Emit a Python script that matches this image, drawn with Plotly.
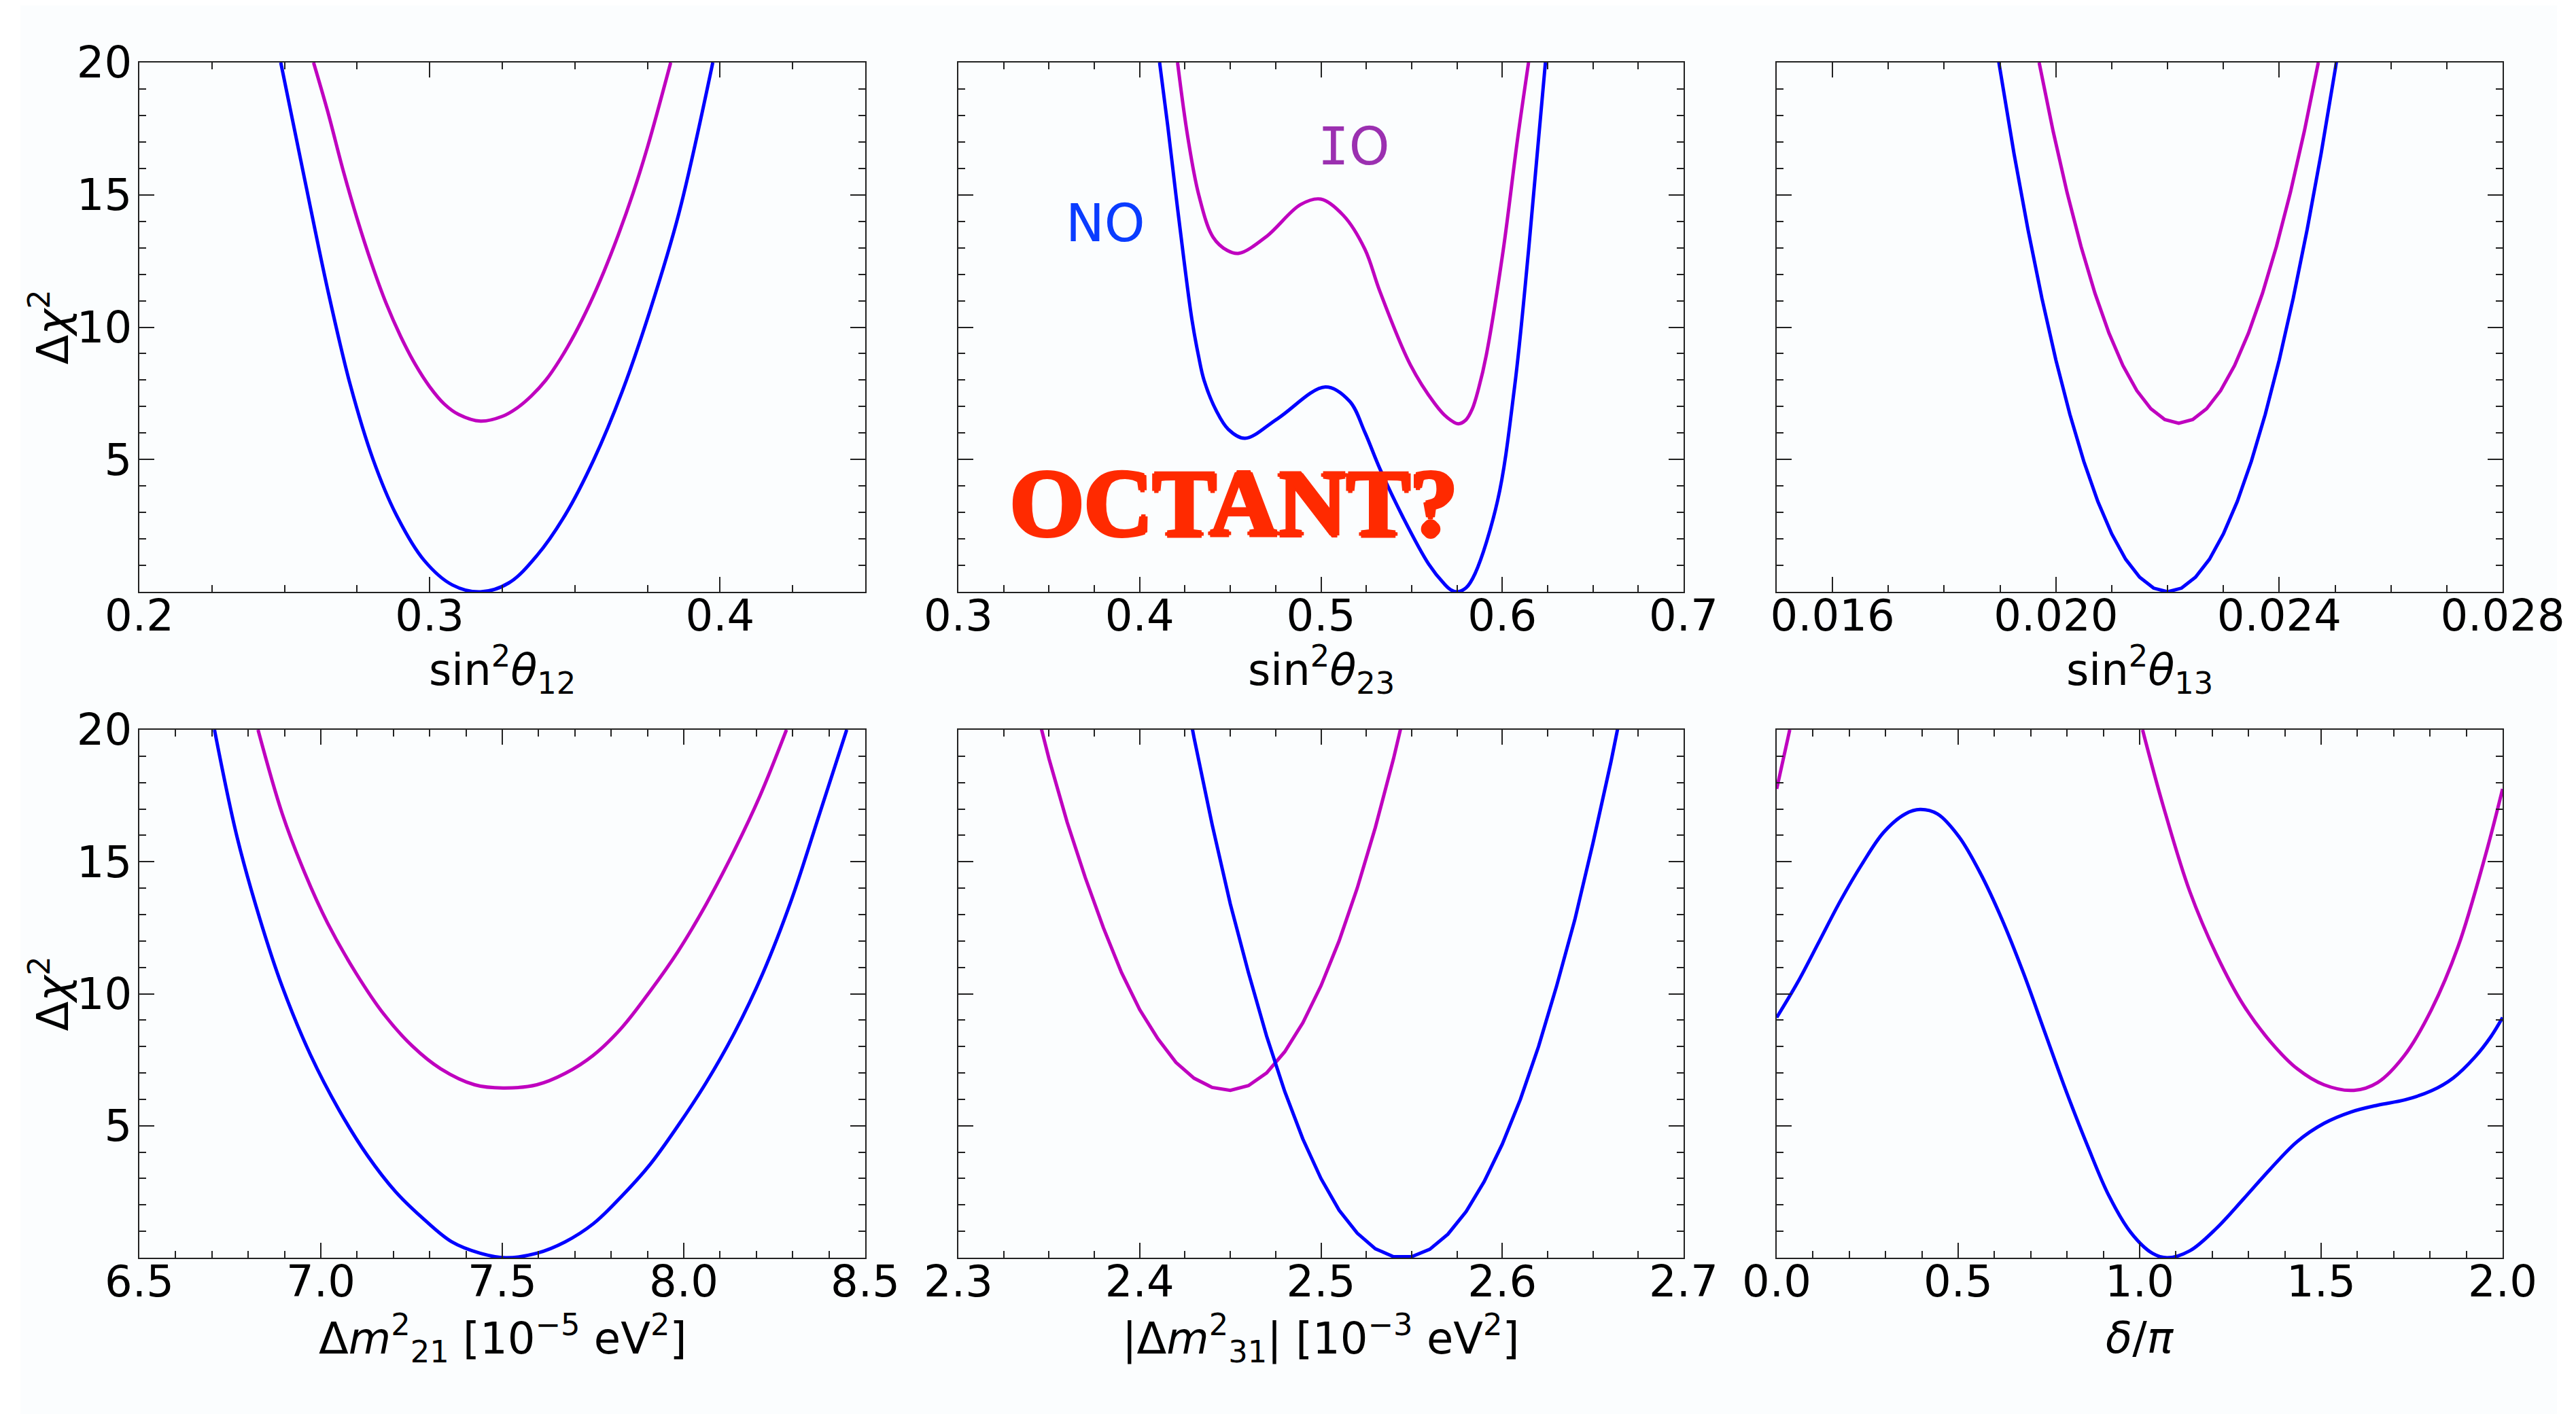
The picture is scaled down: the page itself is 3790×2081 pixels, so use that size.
import plotly.graph_objects as go

# ---------------- data ----------------
# sin^2 theta12
th12_x_no = [0.2487, 0.2571, 0.2649, 0.2727, 0.2805, 0.2883, 0.2980, 0.3078, 0.3175,
             0.3273, 0.3370, 0.3468, 0.3565, 0.3663, 0.3760, 0.3858, 0.3975]
th12_no = [20, 15.5, 11.4, 7.8, 5.0, 2.95, 1.2, 0.26, 0.0,
           0.34, 1.38, 2.93, 4.99, 7.57, 10.67, 14.29, 20]
th12_x_io = [0.2600, 0.2650, 0.2700, 0.2750, 0.2800, 0.2850, 0.2900, 0.2950, 0.3000, 0.3050,
             0.3100, 0.3175, 0.3250, 0.3300, 0.3350, 0.3400, 0.3450, 0.3500, 0.3550, 0.3600,
             0.3650, 0.3700, 0.3750, 0.3830]
th12_io = [20.0, 18.1, 16.0, 14.1, 12.4, 10.9, 9.65, 8.6, 7.75, 7.1,
           6.7, 6.45, 6.63, 6.94, 7.4, 8.0, 8.8, 9.75, 10.85, 12.1,
           13.5, 15.05, 16.8, 20.0]

# sin^2 theta23
th23_x_no = [0.4110, 0.4155, 0.4200, 0.4245, 0.4288, 0.4325, 0.4355, 0.4422, 0.4489, 0.4581,
             0.4760, 0.5024, 0.5158, 0.5242, 0.5325, 0.5450, 0.5594, 0.5680, 0.5715, 0.5750,
             0.5800, 0.5850, 0.5974, 0.6068, 0.6145, 0.6238]
th23_no = [20, 17.6, 15.0, 12.5, 10.3, 8.9, 8.0, 6.85, 6.14, 5.8,
           6.54, 7.74, 7.2, 6.03, 4.65, 2.85, 1.05, 0.3, 0.08, 0.0,
           0.15, 0.69, 3.44, 7.75, 12.9, 20]
th23_x_io = [0.4209, 0.4265, 0.4327, 0.4405, 0.4483, 0.4548, 0.4700, 0.4887, 0.4999, 0.5124,
             0.5242, 0.5325, 0.5493, 0.5629, 0.5694, 0.5757, 0.5800, 0.5834, 0.5870, 0.5912,
             0.6005, 0.6083, 0.6145]
th23_io = [20, 17.2, 14.97, 13.4, 12.9, 12.79, 13.43, 14.63, 14.84, 14.22,
           12.95, 11.35, 8.58, 7.1, 6.6, 6.35, 6.5, 6.9, 7.7, 8.95,
           12.9, 17.04, 20]

# sin^2 theta13
th13_x_no = [0.01895, 0.01900, 0.01925, 0.01950, 0.01975, 0.02000, 0.02025, 0.02050, 0.02075,
             0.02100, 0.02125, 0.02150, 0.02175, 0.02200, 0.02225, 0.02250, 0.02275, 0.02300,
             0.02325, 0.02350, 0.02375, 0.02400, 0.02425, 0.02450, 0.02475, 0.02500, 0.02505]
th13_no = [20.37, 19.71, 16.56, 13.69, 11.09, 8.76, 6.71, 4.93, 3.42,
           2.19, 1.23, 0.55, 0.14, 0.0, 0.14, 0.55, 1.23, 2.19,
           3.42, 4.93, 6.71, 8.76, 11.09, 13.69, 16.56, 19.71, 20.37]
th13_x_io = [0.01970, 0.01995, 0.02020, 0.02045, 0.02070, 0.02095, 0.02120, 0.02145, 0.02170,
             0.02195, 0.02220, 0.02245, 0.02270, 0.02295, 0.02320, 0.02345, 0.02370, 0.02395,
             0.02420, 0.02445, 0.02470]
th13_io = [20.0, 17.41, 15.09, 13.05, 11.28, 9.78, 8.55, 7.60, 6.92,
           6.51, 6.37, 6.51, 6.92, 7.60, 8.55, 9.78, 11.28, 13.05,
           15.09, 17.41, 20.0]

# Delta m^2_21 [1e-5 eV^2]
dm21_x_no = [6.707, 6.769, 6.832, 6.894, 6.972, 7.050, 7.128, 7.206, 7.283, 7.361, 7.439, 7.509,
             7.595, 7.673, 7.751, 7.829, 7.907, 7.984, 8.062, 8.140, 8.218, 8.296, 8.374, 8.449]
dm21_no = [20, 15.95, 12.84, 10.26, 7.67, 5.60, 3.88, 2.50, 1.47, 0.60, 0.17, 0.0,
           0.17, 0.60, 1.29, 2.33, 3.53, 5.0, 6.64, 8.53, 10.78, 13.53, 16.81, 20]
dm21_x_io = [6.827, 6.894, 6.956, 7.019, 7.097, 7.174, 7.252, 7.330, 7.424, 7.502,
             7.595, 7.673, 7.751, 7.829, 7.907, 7.984, 8.062, 8.140, 8.210, 8.283]
dm21_io = [20, 16.81, 14.57, 12.67, 10.78, 9.22, 8.02, 7.16, 6.55, 6.43,
           6.55, 6.98, 7.67, 8.71, 10.09, 11.6, 13.4, 15.45, 17.5, 20]

# |Delta m^2_31| [1e-3 eV^2]
dm31_x_no = [2.42, 2.43, 2.44, 2.45, 2.46, 2.47, 2.48, 2.49, 2.50, 2.51, 2.52, 2.53, 2.54,
             2.55, 2.56, 2.57, 2.58, 2.59, 2.60, 2.61, 2.62, 2.63, 2.64, 2.65, 2.66, 2.67]
dm31_no = [23.3, 19.7, 16.4, 13.4, 10.8, 8.4, 6.3, 4.5, 3.0, 1.8, 0.93, 0.34, 0.04,
           0.04, 0.32, 0.89, 1.74, 2.88, 4.30, 6.0, 8.0, 10.3, 12.8, 15.7, 18.8, 22.2]
dm31_x_io = [2.34, 2.35, 2.36, 2.37, 2.38, 2.39, 2.40, 2.41, 2.42, 2.43, 2.44,
             2.45, 2.46, 2.47, 2.48, 2.49, 2.50, 2.51, 2.52, 2.53, 2.54, 2.55]
dm31_io = [21.6, 18.9, 16.5, 14.4, 12.5, 10.8, 9.4, 8.3, 7.4, 6.8, 6.45,
           6.34, 6.52, 7.0, 7.8, 8.9, 10.3, 12.0, 14.0, 16.3, 18.9, 21.8]

# delta_CP / pi
dcp_x_no = [0.0, 0.0577, 0.117, 0.176, 0.235, 0.295, 0.354, 0.395, 0.443, 0.502, 0.561, 0.620,
            0.680, 0.739, 0.798, 0.857, 0.916, 0.976, 1.035, 1.076, 1.138, 1.212, 1.287, 1.360,
            1.434, 1.508, 1.582, 1.656, 1.731, 1.805, 1.864, 1.923, 1.967, 2.0]
dcp_no = [9.1, 10.43, 11.98, 13.53, 14.91, 16.12, 16.81, 16.98, 16.81, 15.95, 14.57, 12.84,
          10.78, 8.53, 6.29, 4.22, 2.33, 0.95, 0.17, 0.0, 0.26, 1.12, 2.24, 3.36,
          4.40, 5.09, 5.52, 5.78, 5.98, 6.33, 6.81, 7.59, 8.36, 9.1]
dcp_x_io = [0.0, 0.036, None, 1.008, 1.064, 1.138, 1.212, 1.286, 1.360, 1.434, 1.508, 1.590,
            1.656, 1.730, 1.804, 1.878, 1.953, 2.0]
dcp_io = [17.76, 20.0, None, 20.0, 17.16, 13.88, 11.47, 9.57, 8.19, 7.16, 6.55, 6.34,
          6.64, 7.67, 9.40, 11.81, 15.26, 17.76]

# axes: ranges, tick values, tick labels
x_ranges = [[0.2, 0.45], [0.3, 0.7], [0.015, 0.028], [6.5, 8.5], [2.3, 2.7], [0.0, 2.0]]
x_tickvals = [[0.2, 0.3, 0.4], [0.3, 0.4, 0.5, 0.6, 0.7], [0.016, 0.020, 0.024, 0.028],
              [6.5, 7.0, 7.5, 8.0, 8.5], [2.3, 2.4, 2.5, 2.6, 2.7], [0.0, 0.5, 1.0, 1.5, 2.0]]
x_ticktext = [["0.2", "0.3", "0.4"], ["0.3", "0.4", "0.5", "0.6", "0.7"],
              ["0.016", "0.020", "0.024", "0.028"], ["6.5", "7.0", "7.5", "8.0", "8.5"],
              ["2.3", "2.4", "2.5", "2.6", "2.7"], ["0.0", "0.5", "1.0", "1.5", "2.0"]]
x_minor = [(0.2, 0.025), (0.3, 0.025), (0.015, 0.001), (6.5, 0.1), (2.3, 0.025), (0.0, 0.1)]
x_titles = ["sin<sup>2</sup><i>θ</i><sub>12</sub>", "sin<sup>2</sup><i>θ</i><sub>23</sub>",
            "sin<sup>2</sup><i>θ</i><sub>13</sub>",
            "Δ<i>m</i><sup>2</sup><sub>21</sub> [10<sup>−5</sup> eV<sup>2</sup>]",
            "|Δ<i>m</i><sup>2</sup><sub>31</sub>| [10<sup>−3</sup> eV<sup>2</sup>]",
            "<i>δ</i>/<i>π</i>"]
y_range = [0, 20]
y_tickvals = [5, 10, 15, 20]
y_ticktext = ["5", "10", "15", "20"]
y_title = "Δ<i>χ</i><sup>2</sup>"

curves = [
    (th12_x_no, th12_no, th12_x_io, th12_io, "spline"),
    (th23_x_no, th23_no, th23_x_io, th23_io, "spline"),
    (th13_x_no, th13_no, th13_x_io, th13_io, "linear"),
    (dm21_x_no, dm21_no, dm21_x_io, dm21_io, "spline"),
    (dm31_x_no, dm31_no, dm31_x_io, dm31_io, "linear"),
    (dcp_x_no, dcp_no, dcp_x_io, dcp_io, "spline"),
]

# ---------------- layout geometry ----------------
W, H = 3790, 2081
col_px = [(205, 1273), (1410, 2477), (2614, 3682)]
row_px = [(92, 871), (1074, 1851)]

NO_COLOR = "#0000ff"
IO_COLOR = "#bf00bf"
AX_COLOR = "#222222"
FONT = "DejaVu Sans"
TICK_SIZE = 64
TITLE_SIZE = 64

fig = go.Figure()
layout = dict(
    width=W, height=H,
    margin=dict(l=0, r=0, t=0, b=0, pad=0),
    paper_bgcolor="white",
    plot_bgcolor="white",
    showlegend=False,
    font=dict(family=FONT, size=TICK_SIZE, color="black"),
)

annotations = []
for i in range(6):
    r, c = divmod(i, 3)
    n = i + 1
    xs_no, ys_no, xs_io, ys_io, shape = curves[i]
    fig.add_trace(go.Scatter(x=xs_io, y=ys_io, mode="lines", name="IO",
                             line=dict(color=IO_COLOR, width=5, shape=shape),
                             connectgaps=False, xaxis=f"x{n}", yaxis=f"y{n}"))
    fig.add_trace(go.Scatter(x=xs_no, y=ys_no, mode="lines", name="NO",
                             line=dict(color=NO_COLOR, width=5, shape=shape),
                             xaxis=f"x{n}", yaxis=f"y{n}"))
    x0, x1 = col_px[c]
    y0, y1 = row_px[r]
    common = dict(
        showline=True, linecolor=AX_COLOR, linewidth=2, mirror="ticks",
        ticks="inside", ticklen=22, tickwidth=2, tickcolor=AX_COLOR,
        showgrid=False, zeroline=False, automargin=False,
        tickfont=dict(family=FONT, size=TICK_SIZE, color="black"),
    )
    m0, md = x_minor[i]
    layout[f"xaxis{n}"] = dict(
        common, domain=[x0 / W, x1 / W], anchor=f"y{n}", range=x_ranges[i],
        tickmode="array", tickvals=x_tickvals[i], ticktext=x_ticktext[i],
        ticklabelstandoff=-22,
        minor=dict(ticks="inside", ticklen=10, tickwidth=2, tickcolor=AX_COLOR,
                   tickmode="linear", tick0=m0, dtick=md, showgrid=False),
    )
    layout[f"yaxis{n}"] = dict(
        common, domain=[1 - y1 / H, 1 - y0 / H], anchor=f"x{n}", range=y_range,
        tickmode="array", tickvals=y_tickvals, ticktext=y_ticktext,
        showticklabels=(c == 0), ticklabelstandoff=-4,
        minor=dict(ticks="inside", ticklen=10, tickwidth=2, tickcolor=AX_COLOR,
                   tickmode="linear", tick0=0, dtick=1, showgrid=False),
    )
    # x axis title
    ty = y1 + (114 if r == 0 else 118)
    annotations.append(dict(text=x_titles[i], xref="paper", yref="paper",
                            x=(x0 + x1) / 2 / W, y=1 - ty / H, xanchor="center",
                            yanchor="middle", showarrow=False,
                            font=dict(family=FONT, size=TITLE_SIZE, color="black")))
    if c == 0:
        annotations.append(dict(text=y_title, xref="paper", yref="paper",
                                x=73 / W, y=1 - ((y0 + y1) / 2) / H, textangle=-90,
                                xanchor="center", yanchor="middle", showarrow=False,
                                font=dict(family=FONT, size=TITLE_SIZE, color="black")))

annotations += [
    dict(text="NO", xref="x2", yref="y2", x=0.381, y=13.94, showarrow=False,
         xanchor="center", yanchor="middle",
         font=dict(family=FONT, size=76, color="#0a3cff")),
    dict(text="<span style='font-family:DejaVu Sans Mono'>I</span>O", xref="x2", yref="y2",
         x=0.518, y=16.82, showarrow=False, xanchor="center", yanchor="middle",
         font=dict(family=FONT, size=76, color="#9b30b0")),
    dict(text="OCTANT?", xref="x2", yref="y2", x=0.4522, y=3.36, showarrow=False,
         xanchor="center", yanchor="middle",
         font=dict(family="Liberation Serif", size=140, color="#ff2a00", weight="bold",
                   shadow="3px 0 0 #ff2a00, -3px 0 0 #ff2a00, 0 3px 0 #ff2a00, 0 -3px 0 #ff2a00")),
]
layout["annotations"] = annotations
layout["shapes"] = [dict(type="rect", xref="paper", yref="paper", x0=30 / W, x1=3762 / W,
                         y0=0, y1=1 - 8 / H, fillcolor="#fbfdfe", line=dict(width=0),
                         layer="below")]

fig.update_layout(**layout)
fig.write_html("out.html")
